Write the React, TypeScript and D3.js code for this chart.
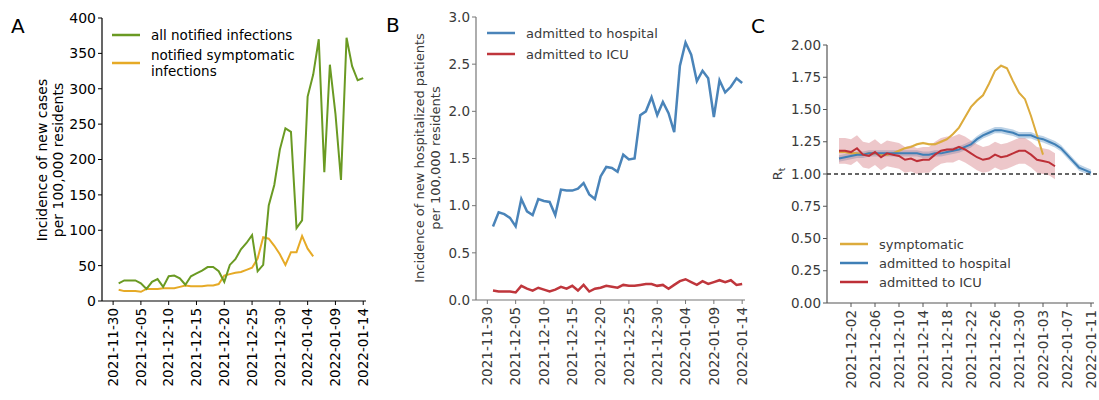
import React from 'react';
import * as d3 from 'd3';

// ---- Panel A: notified infections per 100,000 (daily from 2021-12-01)
const casesStart = '2021-12-01';
const allInfections = [
  25, 29, 29, 29, 25, 17, 27, 31, 20, 35, 36, 32, 23, 35, 39, 43, 48, 48, 42, 27,
  51, 59, 73, 82, 93, 42, 51, 135, 164, 214, 244, 239, 103, 114, 289, 320, 370, 182,
  334, 265, 171, 372, 332, 312, 315,
];
const symptomaticInfections = [
  16, 14, 14, 14, 13, 17, 17, 17, 18, 18, 18, 20, 22, 21, 21, 21, 22, 22, 24, 36,
  38, 40, 41, 44, 47, 60, 90, 88, 78, 66, 51, 69, 69, 92, 74, 63,
];
const ticksAB = [
  '2021-11-30', '2021-12-05', '2021-12-10', '2021-12-15', '2021-12-20',
  '2021-12-25', '2021-12-30', '2022-01-04', '2022-01-09', '2022-01-14',
];
const ticksA = [0, 50, 100, 150, 200, 250, 300, 350, 400];

// ---- Panel B: hospitalised per 100,000 (daily from 2021-12-01)
const hospStart = '2021-12-01';
const hospitalAdmissions = [
  0.78, 0.93, 0.91, 0.87, 0.78, 1.07, 0.94, 0.9, 1.07, 1.05, 1.04, 0.9, 1.17, 1.16,
  1.16, 1.18, 1.24, 1.12, 1.07, 1.31, 1.41, 1.4, 1.36, 1.54, 1.49, 1.5, 1.96, 2.0,
  2.15, 1.96, 2.1, 1.98, 1.78, 2.48, 2.73, 2.6, 2.32, 2.43, 2.35, 1.94, 2.33, 2.2,
  2.26, 2.35, 2.3,
];
const icuAdmissions = [
  0.1, 0.09, 0.09, 0.09, 0.08, 0.15, 0.12, 0.1, 0.13, 0.11, 0.09, 0.11, 0.14, 0.12,
  0.15, 0.1, 0.16, 0.09, 0.12, 0.13, 0.15, 0.14, 0.13, 0.16, 0.15, 0.15, 0.16, 0.17,
  0.17, 0.15, 0.16, 0.12, 0.16, 0.2, 0.22, 0.19, 0.16, 0.2, 0.17, 0.19, 0.21, 0.19,
  0.21, 0.16, 0.17,
];
const ticksB = [0, 0.5, 1, 1.5, 2, 2.5, 3];

// ---- Panel C: reproduction number R_t (daily from 2021-11-30)
const rtStart = '2021-11-30';
const rtSymptomatic = [
  1.17, 1.17, 1.16, 1.16, 1.15, 1.16, 1.16, 1.15, 1.15, 1.16, 1.18, 1.2, 1.21, 1.23,
  1.24, 1.23, 1.23, 1.25, 1.27, 1.31, 1.36, 1.44, 1.52, 1.57, 1.61, 1.7, 1.8, 1.84,
  1.82, 1.72, 1.63, 1.58, 1.45, 1.3, 1.15,
];
const rtHospital = [
  1.12, 1.13, 1.14, 1.15, 1.15, 1.16, 1.16, 1.16, 1.16, 1.16, 1.16, 1.16, 1.16, 1.16,
  1.15, 1.15, 1.16, 1.16, 1.17, 1.18, 1.19, 1.21, 1.23, 1.27, 1.3, 1.32, 1.34, 1.34,
  1.33, 1.32, 1.3, 1.3, 1.3, 1.28, 1.27, 1.25, 1.23, 1.2, 1.15, 1.1, 1.05, 1.03, 1.01,
];
const rtIcu = [
  1.18, 1.18, 1.17, 1.2, 1.15, 1.14, 1.17, 1.13, 1.16, 1.15, 1.14, 1.11, 1.12, 1.1,
  1.11, 1.11, 1.15, 1.18, 1.19, 1.19, 1.21, 1.19, 1.16, 1.13, 1.11, 1.12, 1.15, 1.13,
  1.14, 1.16, 1.18, 1.18, 1.15, 1.11, 1.1, 1.09, 1.06,
];
const rtSymptomaticBand = 0.01;
const rtHospitalBand = 0.025;
const rtIcuBand = 0.1;
const ticksC = [0, 0.25, 0.5, 0.75, 1, 1.25, 1.5, 1.75, 2];
const dateTicksC = [
  '2021-12-02', '2021-12-06', '2021-12-10', '2021-12-14', '2021-12-18', '2021-12-22',
  '2021-12-26', '2021-12-30', '2022-01-03', '2022-01-07', '2022-01-11',
];

const parse = d3.timeParse('%Y-%m-%d');
const FONT = 'DejaVu Sans, sans-serif';

const series = (start: string, vals: number[]) =>
  vals.map((v, i) => ({ date: d3.timeDay.offset(parse(start)!, i), v }));

type Scale = d3.ScaleTime<number, number>;
type YScale = d3.ScaleLinear<number, number>;

function Axes({ x, y, xTicks, yTicks, yFmt, color, axisColor, fs, xfs }: {
  x: Scale; y: YScale; xTicks: string[]; yTicks: number[]; yFmt: (v: number) => string;
  color: string; axisColor: string; fs: number; xfs: number;
}) {
  const [x0, x1] = x.range();
  const [y0, y1] = y.range();
  return (
    <g fontFamily={FONT}>
      <line x1={x0} x2={x0} y1={y0} y2={y1} stroke={axisColor} strokeWidth={1.2} />
      <line x1={x0} x2={x1} y1={y0} y2={y0} stroke={axisColor} strokeWidth={1.2} />
      {yTicks.map(t => (
        <g key={t} transform={`translate(${x0},${y(t)})`}>
          <line x1={-4} x2={0} stroke={axisColor} />
          <text x={-6} dy="0.35em" textAnchor="end" fontSize={fs} fill={color}>{yFmt(t)}</text>
        </g>
      ))}
      {xTicks.map(t => (
        <g key={t} transform={`translate(${x(parse(t)!)},${y0})`}>
          <line y1={0} y2={4} stroke={axisColor} />
          <text transform="translate(0,7) rotate(-90)" dy="0.35em" textAnchor="end"
            fontSize={xfs} fill={color}>{t}</text>
        </g>
      ))}
    </g>
  );
}

function LegendItem({ x, y, color, label, fs, fill }: { x: number; y: number; color: string; label: string[]; fs: number; fill: string }) {
  return (
    <g fontFamily={FONT}>
      <line x1={x} x2={x + 28} y1={y} y2={y} stroke={color} strokeWidth={2.5} />
      {label.map((l, i) => (
        <text key={l} x={x + 39} y={y + 5 + (i - (label.length - 1) / 2) * 16} fontSize={fs} fill={fill}>{l}</text>
      ))}
    </g>
  );
}

export default function App() {
  // Panel A
  const xA = d3.scaleTime().domain([parse('2021-11-28')!, new Date(2022, 0, 14, 12)]).range([102, 366]);
  const yA = d3.scaleLinear().domain([0, 400]).range([301, 18]);
  const lineA = d3.line<{ date: Date; v: number }>().x(d => xA(d.date)).y(d => yA(d.v));

  // Panel B
  const xB = d3.scaleTime().domain([parse('2021-11-28')!, new Date(2022, 0, 14, 12)]).range([476, 745]);
  const yB = d3.scaleLinear().domain([0, 3]).range([300, 17]);
  const lineB = d3.line<{ date: Date; v: number }>().x(d => xB(d.date)).y(d => yB(d.v));

  // Panel C
  const xC = d3.scaleTime().domain([parse('2021-11-28')!, new Date(2022, 0, 11, 12)]).range([827, 1094]);
  const yC = d3.scaleLinear().domain([0, 2]).range([303, 45]);
  const lineC = d3.line<{ date: Date; v: number }>().x(d => xC(d.date)).y(d => yC(d.v));
  const band = (w: number) => d3.area<{ date: Date; v: number }>()
    .x(d => xC(d.date)).y0(d => yC(d.v - w)).y1(d => yC(d.v + w));

  const green = '#6a9a23';
  const gold = '#e6aa26';
  const blue = '#4a84b9';
  const red = '#bf363c';
  const goldC = '#dcab3c';
  const blueC = '#3f7fb6';
  const redC = '#bd2f37';
  const gray = '#3a3a3a';

  const sym = series(rtStart, rtSymptomatic);
  const hos = series(rtStart, rtHospital);
  const icu = series(rtStart, rtIcu);

  return (
    <svg width={1099} height={400} style={{ position: 'absolute', left: 0, top: 0, background: '#fff' }}>
      {/* ---------- A ---------- */}
      <text x={11} y={33} fontSize={20} fontFamily={FONT}>A</text>
      <Axes x={xA} y={yA} xTicks={ticksAB} yTicks={ticksA} yFmt={v => String(v)}
        color="#000" axisColor="#000" fs={14} xfs={13.5} />
      <g fontFamily={FONT} fontSize={14} textAnchor="middle">
        <text transform={`translate(47,160) rotate(-90)`}>Incidence of new cases</text>
        <text transform={`translate(63,160) rotate(-90)`}>per 100,000 residents</text>
      </g>
      <path d={lineA(series(casesStart, symptomaticInfections))!} fill="none" stroke={gold} strokeWidth={2} />
      <path d={lineA(series(casesStart, allInfections))!} fill="none" stroke={green} strokeWidth={2} />
      <LegendItem x={112} y={35} color={green} label={['all notified infections']} fs={13.5} fill="#000" />
      <LegendItem x={112} y={63} color={gold} label={['notified symptomatic', 'infections']} fs={13.5} fill="#000" />

      {/* ---------- B ---------- */}
      <text x={386} y={32} fontSize={20} fontFamily={FONT}>B</text>
      <Axes x={xB} y={yB} xTicks={ticksAB} yTicks={ticksB} yFmt={v => v.toFixed(1)}
        color={gray} axisColor="#777" fs={13.5} xfs={13.5} />
      <g fontFamily={FONT} fontSize={13} textAnchor="middle" fill={gray}>
        <text transform={`translate(424,158) rotate(-90)`}>Incidence of new hospitalized patients</text>
        <text transform={`translate(440,158) rotate(-90)`}>per 100,000 residents</text>
      </g>
      <path d={lineB(series(hospStart, hospitalAdmissions))!} fill="none" stroke={blue} strokeWidth={2.5} />
      <path d={lineB(series(hospStart, icuAdmissions))!} fill="none" stroke={red} strokeWidth={2.5} />
      <LegendItem x={487} y={33} color={blue} label={['admitted to hospital']} fs={13} fill={gray} />
      <LegendItem x={487} y={54} color={red} label={['admitted to ICU']} fs={13} fill={gray} />

      {/* ---------- C ---------- */}
      <text x={751} y={33} fontSize={20} fontFamily={FONT}>C</text>
      <Axes x={xC} y={yC} xTicks={dateTicksC} yTicks={ticksC} yFmt={v => v.toFixed(2)}
        color={gray} axisColor="#555" fs={13.5} xfs={13.5} />
      <text transform={`translate(782,${yC(1)}) rotate(-90)`} textAnchor="middle" fontFamily={FONT} fontSize={13} fill={gray}>
        R<tspan fontSize={9} dy={3}>t</tspan>
      </text>
      <path d={band(rtSymptomaticBand)(sym)!} fill={goldC} opacity={0.3} />
      <path d={band(rtHospitalBand)(hos)!} fill={blueC} opacity={0.35} />
      <path d={band(rtIcuBand)(icu)!} fill="#d2737b" opacity={0.4} />
      <line x1={xC.range()[0]} x2={1099} y1={yC(1)} y2={yC(1)} stroke="#333" strokeWidth={1.3} strokeDasharray="4,3" />
      <path d={lineC(sym)!} fill="none" stroke={goldC} strokeWidth={2} />
      <path d={lineC(hos)!} fill="none" stroke={blueC} strokeWidth={2} />
      <path d={lineC(icu)!} fill="none" stroke={redC} strokeWidth={2} />
      <LegendItem x={840} y={244} color={goldC} label={['symptomatic']} fs={13} fill={gray} />
      <LegendItem x={840} y={263} color={blueC} label={['admitted to hospital']} fs={13} fill={gray} />
      <LegendItem x={840} y={282} color={redC} label={['admitted to ICU']} fs={13} fill={gray} />
    </svg>
  );
}
